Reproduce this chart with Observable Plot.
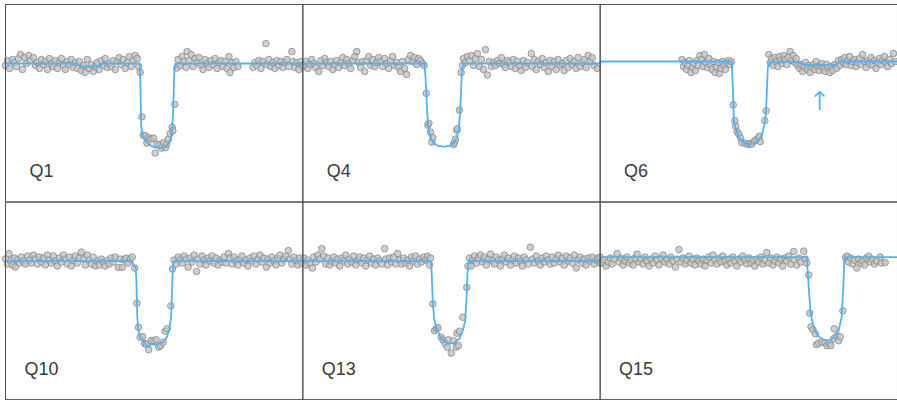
<!DOCTYPE html>
<html>
<head>
<meta charset="utf-8">
<script src="https://cdn.jsdelivr.net/npm/d3@7"></script>
<script src="https://cdn.jsdelivr.net/npm/@observablehq/plot@0.6"></script>
<style>
  html, body { margin: 0; padding: 0; background: #fff; overflow: hidden; }
  #chart svg { display: block; }
</style>
</head>
<body>
<div id="chart"></div>
<script>
// Kepler transit light curves, one panel per quarter.
// Time in hours from the start of each window, flux in ppt relative to baseline.

const quarters = ["Q1", "Q4", "Q6", "Q10", "Q13", "Q15"];

// ---------- Q1 ----------
const q1Points = [
  [0.0,-0.2],[0.2,0.3],[0.4,-0.5],[0.7,0.4],[0.9,0.1],[1.1,-0.3],[1.3,0.5],[1.5,0.9],[1.7,-0.6],[1.9,0.6],
  [2.1,0.0],[2.33,0.8],[2.5,0.3],[2.8,0.6],[3.0,-0.2],[3.2,0.1],[3.4,-0.5],[3.6,0.4],[3.8,-0.1],[4.0,0.2],
  [4.2,-0.6],[4.4,0.5],[4.6,0.0],[4.8,-0.3],[5.0,0.3],[5.2,-0.5],[5.4,0.1],[5.6,0.5],[5.8,-0.2],[6.0,-0.6],
  [6.2,0.2],[6.4,-0.1],[6.6,0.4],[6.8,-0.4],[7.0,0.1],[7.2,-0.5],[7.4,0.2],[7.6,-0.7],[7.8,-0.2],[8.0,-0.9],
  [8.2,0.4],[8.4,-0.5],[8.6,-0.1],[8.8,-0.8],[9.0,-0.3],[9.2,0.1],[9.4,-0.6],[9.6,0.3],[9.8,-0.2],[10.0,0.5],
  [10.2,-0.4],[10.4,0.0],[10.6,-0.3],[10.8,0.3],[11.0,-0.6],[11.2,0.2],[11.4,0.6],[11.6,-0.1],[11.8,0.4],[12.0,-0.5],
  [12.2,0.1],[12.4,0.7],[12.6,-0.3],[12.8,0.3],[13.0,0.8],[13.2,0.5],[13.35,-0.3],[13.5,-0.9],
  [13.67,-5.35],[13.8,-7.2],[14.0,-7.25],[14.17,-8.0],[14.37,-7.45],[14.57,-7.6],[14.83,-7.5],[15.0,-9.0],[15.17,-8.1],[15.43,-8.15],
  [15.63,-8.5],[15.83,-7.95],[16.03,-8.45],[16.17,-8.1],[16.33,-7.6],[16.5,-7.05],[16.7,-6.4],[16.77,-6.75],[16.97,-4.1],[17.17,-0.45],
  [17.3,0.4],[17.5,-0.2],[17.7,0.7],[17.9,0.2],[18.1,-0.4],[18.2,1.2],[18.4,0.3],[18.6,0.9],[18.8,-0.3],[19.0,0.5],
  [19.2,0.1],[19.4,0.6],[19.6,-0.2],[19.8,-0.6],[20.0,0.4],[20.2,0.0],[20.4,-0.4],[20.6,0.3],[20.8,-0.1],[21.0,0.5],
  [21.2,-0.5],[21.4,0.1],[21.6,0.3],[21.8,-0.3],[22.0,0.2],[22.2,-0.5],[22.4,0.7],[22.5,-0.9],[22.7,0.1],[22.9,-0.4],
  [23.1,0.2],[23.3,-0.3],
  [24.8,-0.4],[25.0,0.1],[25.2,-0.2],[25.4,0.3],[25.6,-0.5],[25.8,0.2],[26.1,2.0],[26.2,-0.1],[26.4,0.4],[26.6,-0.3],
  [26.8,0.1],[27.0,-0.5],[27.2,0.3],[27.4,-0.2],[27.6,0.2],[27.8,-0.4],[28.0,0.1],[28.2,0.4],[28.4,-0.3],[28.7,1.2],
  [28.8,0.2],[29.0,-0.4],[29.2,0.1],[29.4,-0.6],[29.6,0.2],[29.8,-0.2]
];
const q1Model = [
  [0,0],[7.17,0],[7.67,-0.3],[9.43,-0.3],[9.77,0],[13.45,0],[13.52,-2],[13.6,-6.2],[13.7,-7.1],[13.95,-7.75],
  [14.4,-8.15],[14.9,-8.4],[15.4,-8.5],[15.75,-8.5],[16.05,-8.35],[16.35,-8.0],[16.57,-7.5],[16.7,-6.8],[16.8,-4.8],[16.92,-0.8],
  [17.02,0],[29.8,0]
];

// ---------- Q4 ----------
const q4Points = [
  [0.1,-0.3],[0.3,0.2],[0.5,-0.5],[0.7,-0.1],[0.9,0.4],[1.1,0.0],[1.3,-0.4],[1.6,-0.8],[1.8,0.3],[2.0,-0.2],
  [2.2,0.5],[2.4,0.1],[2.6,-0.3],[2.8,0.2],[3.0,-0.6],[3.2,-0.1],[3.4,0.3],[3.6,-0.4],[3.8,0.1],[4.0,0.6],
  [4.2,-0.2],[4.4,0.4],[4.6,0.0],[4.8,-0.5],[5.0,0.3],[5.2,0.7],[5.4,1.2],[5.6,0.1],[5.8,-0.4],[6.0,0.2],
  [6.2,-0.8],[6.4,0.3],[6.6,0.7],[6.8,-0.2],[7.0,0.4],[7.2,-0.3],[7.4,0.1],[7.6,0.6],[7.8,0.2],[8.0,-0.3],
  [8.2,0.5],[8.4,0.0],[8.6,-0.5],[8.8,0.3],[9.0,0.7],[9.2,-0.2],[9.4,0.1],[9.6,-0.4],[9.8,-0.8],[10.0,0.2],
  [10.2,-0.5],[10.4,-1.1],[10.6,0.4],[10.8,0.8],[11.0,0.2],[11.2,0.6],[11.4,-0.1],[11.6,0.5],[11.8,0.3],[12.0,0.0],
  [12.15,-0.2],
  [12.37,-3.0],[12.53,-6.2],[12.63,-6.0],[12.8,-6.9],[12.93,-7.9],[13.03,-7.45],[15.1,-8.15],[15.2,-7.95],[15.3,-7.6],[15.43,-6.7],
  [15.5,-6.55],[15.7,-4.7],[15.87,-0.9],
  [16.0,-0.2],[16.1,0.5],[16.3,0.1],[16.5,0.7],[16.7,0.3],[16.9,0.8],[17.1,-0.2],[17.3,0.5],[17.5,1.0],[17.7,-0.3],
  [17.9,0.4],[18.1,-0.6],[18.3,1.4],[18.5,-1.15],[18.7,0.2],[18.9,-0.3],[19.1,0.1],[19.3,-0.2],[19.5,0.3],[19.7,0.0],
  [19.9,0.6],[20.1,-0.1],[20.3,-0.4],[20.5,0.3],[20.7,0.1],[20.9,-0.3],[21.1,0.4],[21.3,-0.5],[21.5,0.2],[21.7,-0.2],
  [21.9,-0.7],[22.1,0.3],[22.3,-0.4],[22.5,0.1],[22.9,1.0],[23.0,-0.3],[23.2,0.4],[23.4,-0.6],[23.6,0.2],[23.8,-0.1],
  [24.0,0.5],[24.2,-0.4],[24.4,0.1],[24.6,-0.8],[24.8,0.3],[25.0,-0.3],[25.2,0.2],[25.4,-0.6],[25.6,0.4],[25.8,-0.2],
  [26.0,0.0],[26.2,-0.7],[26.4,0.3],[26.6,-0.4],[26.8,0.5],[27.0,-0.1],[27.2,0.2],[27.4,-0.5],[27.6,0.6],[27.8,-0.3],
  [28.0,0.1],[28.2,0.4],[28.4,-0.4],[28.6,0.8],[28.8,0.2],[29.0,0.6],[29.2,-0.2],[29.5,-0.5]
];
const q4Model = [
  [0,0],[12.2,0],[12.3,-1.5],[12.45,-4.5],[12.55,-6.2],[12.7,-7.1],[13.03,-7.93],[13.53,-8.27],[14.2,-8.35],[14.7,-8.27],
  [15.13,-8.0],[15.43,-7.43],[15.63,-6.6],[15.77,-4.8],[15.93,-1.1],[16.05,0],[29.8,0]
];

// ---------- Q6 ----------
const q6Points = [
  [8.2,0.4],[8.35,-0.3],[8.5,0.1],[8.65,-0.6],[8.8,-0.2],[8.95,0.3],[9.1,-0.9],[9.25,-0.4],[9.4,0.0],[9.55,-0.7],
  [9.7,0.3],[9.85,-0.2],[10.0,0.8],[10.15,0.4],[10.3,-0.3],[10.45,0.9],[10.6,0.1],[10.75,-0.4],[10.9,0.5],[11.05,-0.1],
  [11.2,-0.6],[11.35,0.2],[11.5,-0.9],[11.65,-0.3],[11.8,0.1],[11.95,-1.0],[12.1,-0.5],[12.25,0.2],[12.4,-0.2],[12.55,-0.6],
  [12.7,0.1],[12.85,0.3],[13.0,-0.1],[13.15,0.2],
  [13.33,-4.15],[13.5,-5.75],[13.58,-6.3],[13.73,-6.85],[13.9,-7.1],[14.07,-7.5],[14.2,-7.95],[14.5,-8.0],[14.8,-8.15],[15.0,-8.05],
  [15.2,-8.1],[15.45,-7.8],[15.65,-7.65],[15.85,-7.5],[15.95,-7.3],[16.05,-7.85],[16.5,-5.75],[16.63,-4.75],[16.9,0.9],
  [17.05,0.1],[17.2,0.5],[17.35,-0.2],[17.5,0.6],[17.65,0.2],[17.8,-0.3],[17.95,0.7],[18.1,0.3],[18.25,0.0],[18.4,0.8],
  [18.55,0.4],[18.7,-0.1],[18.85,0.6],[19.05,1.2],[19.2,0.3],[19.35,0.8],[19.5,0.1],[19.65,0.5],[19.8,-0.2],[20.0,-0.5],
  [20.15,-0.1],[20.3,-0.8],[20.45,-0.3],[20.6,0.1],[20.75,-0.6],[20.9,-0.2],[21.05,-0.9],[21.2,-0.4],[21.35,-0.1],[21.5,-0.6],
  [21.65,0.2],[21.8,-0.3],[21.95,-0.7],[22.1,-0.2],[22.25,0.0],[22.4,-0.5],[22.55,-0.8],[22.7,-0.1],[22.85,-0.4],[23.0,-0.9],
  [23.15,-0.3],[23.3,-0.7],[23.5,-0.1],[23.7,-0.5],[23.9,0.3],[24.05,-0.2],[24.2,0.4],[24.35,0.1],[24.5,0.6],[24.65,-0.1],
  [24.8,0.3],[25.0,0.7],[25.15,-0.2],[25.3,0.2],[25.5,0.4],[25.65,-0.3],[25.8,0.1],[26.0,0.5],[26.15,-0.1],[26.3,0.9],
  [26.5,0.2],[26.65,-0.4],[26.8,0.3],[27.0,0.0],[27.15,0.6],[27.3,-0.2],[27.5,0.3],[27.65,-0.5],[27.8,0.1],[28.0,0.5],
  [28.15,-0.1],[28.3,0.3],[28.5,0.7],[28.65,0.1],[28.8,-0.3],[29.0,0.4],[29.2,0.0],[29.4,1.0],[29.6,0.2]
];
const q6Model = [
  [0,0.2],[13.2,0.2],[13.3,-2.5],[13.4,-5.8],[13.57,-6.45],[13.9,-7.45],[14.4,-7.95],[14.9,-8.1],[15.4,-8.05],[15.9,-7.7],
  [16.23,-7.1],[16.47,-6.1],[16.63,-4.8],[16.8,-0.45],[16.97,0.17],[19.9,0.17],[20.57,-0.15],[23.4,-0.15],[24.2,0.2],[29.8,0.2]
];
// the shallow second dip after the Q6 transit
const q6Marker = [{t: 22.0, from: -4.6, to: -2.85}];

// ---------- Q10 ----------
const q10Points = [
  [0.0,0.2],[0.2,-0.3],[0.35,0.75],[0.5,0.0],[0.7,-0.4],[0.9,0.3],[1.0,-0.6],[1.2,0.1],[1.4,-0.2],[1.6,0.4],
  [1.8,0.0],[2.0,-0.3],[2.2,0.5],[2.4,0.1],[2.6,-0.2],[2.8,0.6],[3.0,0.2],[3.2,-0.3],[3.4,0.4],[3.6,-0.1],
  [3.8,0.3],[4.0,-0.4],[4.2,0.6],[4.4,0.1],[4.6,-0.2],[4.8,0.5],[5.0,0.0],[5.2,-0.5],[5.4,0.3],[5.6,-0.1],
  [5.8,0.6],[6.0,0.2],[6.2,-0.3],[6.4,0.4],[6.6,-0.5],[6.8,0.1],[7.0,0.5],[7.2,-0.2],[7.4,0.3],[7.6,0.9],
  [7.8,0.2],[8.0,-0.4],[8.2,0.6],[8.4,0.1],[8.6,-0.3],[8.8,0.4],[9.0,-0.5],[9.2,0.0],[9.4,-0.4],[9.6,0.2],
  [9.8,-0.1],[10.0,-0.5],[10.2,0.1],[10.4,-0.3],[10.6,0.3],[10.8,-0.1],[11.0,0.4],[11.3,-0.65],[11.5,0.2],[11.7,-0.65],
  [11.9,0.1],[12.1,0.3],[12.3,-0.2],[12.5,0.2],[12.7,0.4],[12.95,-0.7],
  [13.17,-4.25],[13.33,-6.65],[13.5,-7.65],[13.75,-7.6],[13.95,-8.3],[14.1,-8.35],[14.35,-8.9],[14.6,-8.0],[14.85,-8.0],[15.1,-7.9],
  [15.35,-8.65],[15.55,-8.5],[15.8,-8.15],[16.0,-7.05],[16.2,-6.8],[16.57,-4.5],[16.73,-0.8],
  [16.9,0.1],[17.1,-0.3],[17.3,0.4],[17.5,0.1],[17.7,-0.2],[17.9,0.5],[18.1,0.2],[18.3,-0.6],[18.5,0.3],[18.7,-0.1],
  [18.9,0.6],[19.15,-1.05],[19.3,0.2],[19.5,-0.3],[19.7,0.5],[19.9,0.1],[20.1,-0.4],[20.3,0.3],[20.5,0.0],[20.7,0.5],
  [20.9,-0.2],[21.1,0.3],[21.3,-0.4],[21.5,0.1],[21.7,-0.1],[21.9,0.4],[22.1,-0.2],[22.35,0.75],[22.5,0.3],[22.7,-0.3],
  [22.9,0.4],[23.1,0.0],[23.3,-0.4],[23.5,0.2],[23.7,0.5],[23.9,-0.2],[24.1,0.1],[24.3,-0.5],[24.5,0.3],[24.7,0.0],
  [24.9,0.5],[25.1,-0.3],[25.3,0.2],[25.5,0.6],[25.7,-0.1],[25.9,0.3],[26.15,-0.6],[26.3,0.2],[26.5,-0.2],[26.7,0.4],
  [26.9,0.0],[27.1,-0.4],[27.3,0.3],[27.5,0.6],[27.7,-0.2],[27.9,0.2],[28.1,0.5],[28.35,1.05],[28.5,0.2],[28.7,-0.3],
  [28.9,0.4],[29.1,0.0],[29.3,-0.4],[29.5,0.3],[29.7,-0.2]
];
const q10Model = [
  [0,0],[12.7,0],[12.85,-0.5],[13.05,-0.6],[13.12,-2],[13.2,-5.5],[13.3,-6.9],[13.5,-7.66],[14.0,-8.33],[14.33,-8.65],
  [14.57,-8.4],[15.17,-8.4],[15.77,-8.15],[16.17,-7.66],[16.43,-6.8],[16.6,-5.65],[16.73,-1.65],[16.83,-0.1],[16.95,0],[29.8,0]
];

// ---------- Q13 ----------
const q13Points = [
  [0.1,0.3],[0.3,-0.4],[0.5,0.1],[0.7,-0.2],[0.95,-0.7],[1.1,0.4],[1.3,-0.1],[1.5,0.6],[1.7,0.2],[1.9,1.25],
  [2.1,0.5],[2.3,-0.3],[2.5,0.3],[2.7,-0.4],[2.9,0.0],[3.1,0.4],[3.3,-0.2],[3.5,0.2],[3.7,-0.5],[3.9,0.3],
  [4.1,0.0],[4.3,0.6],[4.5,-0.3],[4.7,0.2],[4.9,-0.1],[5.1,0.5],[5.3,-0.4],[5.5,0.1],[5.7,0.4],[5.9,-0.2],
  [6.1,0.3],[6.3,-0.5],[6.5,0.1],[6.7,0.5],[6.9,-0.2],[7.1,0.2],[7.3,-0.4],[7.5,0.3],[7.7,0.0],[7.9,-0.3],
  [8.2,1.25],[8.3,0.2],[8.5,-0.4],[8.7,0.3],[8.9,-0.1],[9.1,0.4],[9.3,-0.3],[9.5,0.75],[9.7,0.1],[9.9,-0.3],
  [10.1,0.3],[10.3,-0.2],[10.5,0.1],[10.7,-0.5],[10.9,0.4],[11.1,0.0],[11.3,0.5],[11.5,-0.3],[11.7,0.2],[11.9,-0.1],
  [12.1,0.4],[12.3,0.1],[12.5,0.5],[12.7,-0.4],[12.8,0.3],
  [13.03,-4.3],[13.2,-7.0],[13.37,-6.8],[13.55,-6.7],[13.87,-7.65],[14.05,-7.95],[14.27,-8.3],[14.47,-8.65],[14.6,-7.9],[14.87,-9.25],
  [15.1,-8.0],[15.37,-8.65],[15.45,-7.25],[15.6,-8.5],[15.7,-7.05],[16.03,-5.65],[16.43,-2.65],[16.55,-0.5],
  [16.7,0.3],[16.85,-0.5],[17.0,0.1],[17.2,0.5],[17.4,-0.2],[17.6,0.3],[17.8,0.6],[18.0,-0.1],[18.2,0.4],[18.4,-0.4],
  [18.6,0.2],[18.8,0.7],[19.0,0.0],[19.2,-0.3],[19.4,0.4],[19.6,0.1],[19.8,-0.5],[20.0,0.2],[20.2,0.6],[20.4,-0.1],
  [20.6,0.3],[20.8,-0.4],[21.0,0.1],[21.2,0.5],[21.4,-0.2],[21.6,0.3],[21.8,0.0],[22.0,-0.5],[22.2,0.4],[22.4,0.1],
  [22.6,-0.3],[22.8,1.4],[23.0,0.2],[23.2,-0.2],[23.4,0.5],[23.6,0.0],[23.8,-0.4],[24.0,0.3],[24.2,-0.1],[24.4,0.5],
  [24.6,0.1],[24.8,-0.3],[25.0,0.4],[25.2,-0.2],[25.4,0.2],[25.6,0.6],[25.8,-0.1],[26.0,0.3],[26.2,-0.4],[26.4,0.5],
  [26.6,0.0],[26.8,0.3],[27.0,-0.2],[27.2,0.6],[27.4,-0.7],[27.6,0.1],[27.8,0.4],[28.0,-0.2],[28.2,0.2],[28.4,-0.4],
  [28.6,0.3],[28.8,0.0],[29.0,0.4],[29.2,-0.3],[29.4,0.1],[29.6,0.3],[29.8,-0.2]
];
const q13Model = [
  [0,0],[12.85,0],[12.93,-1.5],[13.03,-4.3],[13.2,-6.0],[13.37,-6.65],[13.87,-7.8],[14.53,-8.3],[15.13,-8.25],[15.7,-7.8],
  [16.03,-7.0],[16.27,-6.0],[16.43,-3.3],[16.53,-0.5],[16.62,0],[29.8,0]
];

// ---------- Q15 ----------
const q15Points = [
  [0.0,0.4],[0.2,-0.2],[0.4,0.1],[0.6,-0.5],[0.8,-0.1],[1.0,0.3],[1.2,-0.3],[1.4,0.2],[1.7,0.75],[1.9,-0.1],
  [2.1,0.3],[2.3,-0.4],[2.5,0.0],[2.7,0.4],[2.9,-0.2],[3.1,0.1],[3.3,-0.4],[3.5,0.3],[3.7,0.7],[3.9,-0.1],
  [4.1,0.2],[4.3,-0.3],[4.5,0.4],[4.7,0.0],[4.9,-0.5],[5.1,0.2],[5.3,-0.2],[5.5,0.5],[5.7,0.1],[5.9,-0.4],
  [6.1,0.3],[6.3,0.6],[6.5,-0.1],[6.7,0.2],[6.9,-0.3],[7.1,0.4],[7.3,0.0],[7.55,-0.6],[7.7,0.2],[7.9,1.15],
  [8.1,-0.1],[8.3,0.3],[8.5,-0.3],[8.7,0.1],[8.9,0.5],[9.1,-0.2],[9.3,0.2],[9.5,-0.4],[9.7,0.3],[9.9,0.0],
  [10.1,-0.3],[10.3,0.2],[10.5,-0.5],[10.7,0.1],[10.9,0.4],[11.1,-0.2],[11.3,0.6],[11.5,0.1],[11.7,-0.3],[11.9,0.3],
  [12.1,-0.1],[12.3,0.5],[12.5,0.0],[12.7,-0.4],[12.9,0.2],[13.1,-0.2],[13.3,0.4],[13.5,0.0],[13.7,-0.5],[13.9,0.2],
  [14.1,-0.1],[14.3,0.5],[14.5,0.1],[14.7,-0.3],[14.9,0.3],[15.1,-0.2],[15.3,0.1],[15.5,-0.5],[15.7,0.2],[15.9,-0.1],
  [16.1,0.4],[16.3,-0.3],[16.5,0.1],[16.7,0.85],[16.9,-0.2],[17.1,0.3],[17.3,-0.4],[17.5,0.0],[17.7,0.4],[17.9,-0.2],
  [18.1,0.2],[18.3,-0.5],[18.5,0.3],[18.7,0.0],[18.9,0.5],[19.1,-0.3],[19.4,0.95],[19.5,0.1],[19.7,-0.4],[19.9,0.3],
  [20.1,-0.1],[20.4,1.0],[20.55,0.2],[20.7,-0.2],
  [20.9,-1.4],[21.0,-5.25],[21.13,-6.6],[21.33,-6.9],[21.57,-7.3],[21.67,-8.4],[21.9,-8.25],[22.23,-8.15],[22.55,-8.2],[22.73,-8.5],
  [23.0,-8.3],[23.13,-8.5],[23.4,-7.8],[23.47,-6.8],[23.75,-7.5],[23.9,-8.0],[24.07,-7.6],[24.33,-5.0],
  [24.6,0.35],[24.75,0.5],[24.9,-0.1],[25.1,0.3],[25.3,-0.3],[25.5,0.1],[25.73,-0.7],[25.9,0.2],[26.1,-0.2],[26.3,0.0],
  [26.5,-0.4],[26.7,0.3],[26.9,0.5],[27.1,-0.1],[27.3,0.2],[27.5,-0.3],[27.7,0.0],[28.07,0.4],[28.2,-0.2],[28.57,-0.15]
];
const q15Model = [
  [0,0.4],[20.7,0.4],[20.8,-1.0],[20.95,-3.3],[21.1,-5.3],[21.4,-6.65],[21.8,-7.5],[22.4,-7.9],[22.9,-8.0],[23.4,-7.7],
  [23.9,-7.0],[24.2,-5.65],[24.37,-2.65],[24.47,0.0],[24.57,0.4],[29.8,0.4]
];

// ---------- assemble panels (3 columns x 2 rows) ----------
const pointSets = [q1Points, q4Points, q6Points, q10Points, q13Points, q15Points];
const modelSets = [q1Model, q4Model, q6Model, q10Model, q13Model, q15Model];

const panels = quarters.map((name, i) => ({name, col: i % 3, row: Math.floor(i / 3)}));
const dots = panels.flatMap((p, i) => pointSets[i].map(([t, f]) => ({col: p.col, row: p.row, t, f})));
const model = panels.flatMap((p, i) => modelSets[i].map(([t, f]) => ({col: p.col, row: p.row, t, f})));
const markers = q6Marker.map(d => ({...d, col: panels[2].col, row: panels[2].row}));

const blue = "#52b2f6";

const chart = Plot.plot({
  width: 899,
  height: 401,
  marginLeft: 5,
  marginRight: 0,
  marginTop: 3,
  marginBottom: 1,
  fx: {axis: null, padding: 0, domain: [0, 1, 2]},
  fy: {axis: null, padding: 0, domain: [0, 1]},
  x: {axis: null, domain: [0, 29.8]},
  y: {axis: null, domain: [-13.92, 5.93]},
  marks: [
    Plot.dot(dots, {
      fx: "col", fy: "row", x: "t", y: "f", r: 3.3,
      fill: "#c3c3c3", fillOpacity: 0.8,
      stroke: "#808080", strokeWidth: 0.8, strokeOpacity: 0.9
    }),
    Plot.line(model, {
      fx: "col", fy: "row", x: "t", y: "f",
      stroke: blue, strokeWidth: 1.8, curve: "linear"
    }),
    Plot.arrow(markers, {
      fx: "col", fy: "row", x1: "t", x2: "t", y1: "from", y2: "to",
      stroke: blue, strokeWidth: 1.8, headLength: 7.5, headAngle: 95
    }),
    Plot.text(panels, {
      fx: "col", fy: "row", text: "name",
      frameAnchor: "bottom-left", dx: 36, dy: -25,
      textAnchor: "middle", lineAnchor: "bottom",
      fontSize: 18, fontFamily: "'Liberation Sans', Arial, Helvetica, sans-serif",
      fill: "#3a3a3a"
    }),
    Plot.frame({stroke: "#505050", strokeWidth: 1})
  ]
});

document.getElementById("chart").append(chart);
</script>
</body>
</html>
